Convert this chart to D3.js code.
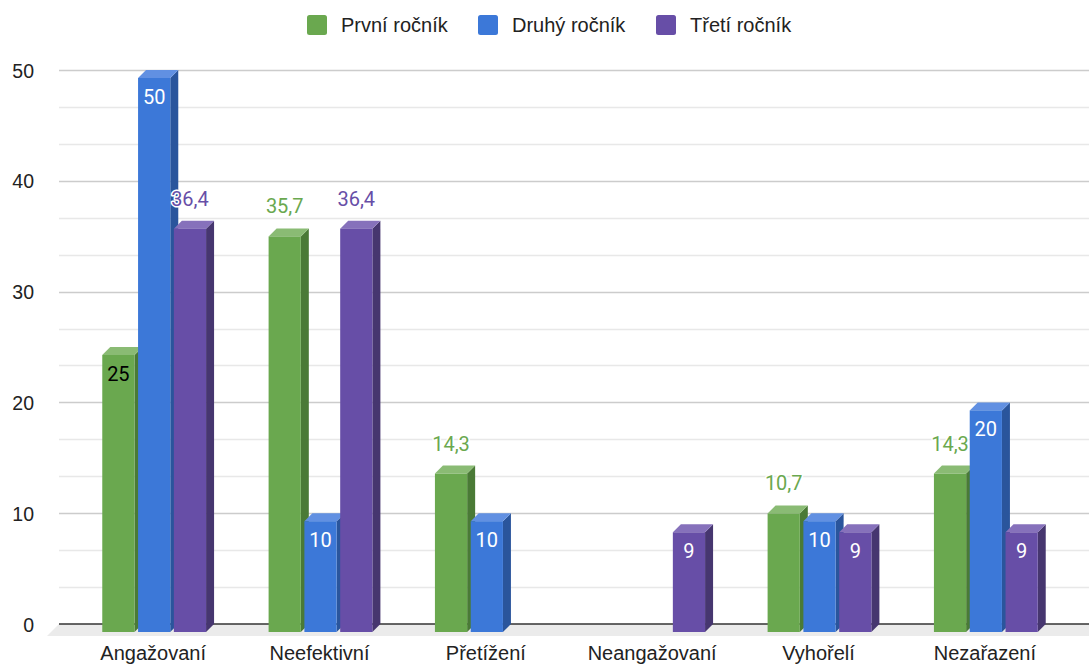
<!DOCTYPE html>
<html>
<head>
<meta charset="utf-8">
<script src="https://cdn.jsdelivr.net/npm/d3@7"></script>
<style>
  html, body { margin: 0; padding: 0; background: #fff; }
  svg { display: block; }
</style>
</head>
<body>
<svg id="chart" width="1089" height="666"></svg>
<script>
// Category names and series values (percent)
const categories = ["Angažovaní", "Neefektivní", "Přetížení", "Neangažovaní", "Vyhořelí", "Nezařazení"];
const seriesNames = ["První ročník", "Druhý ročník", "Třetí ročník"];
const prvniRocnik = [25, 35.7, 14.3, null, 10.7, 14.3];
const druhyRocnik = [50, 10, 10, null, 10, 20];
const tretiRocnik = [36.4, 36.4, null, 9, 9, 9];
const yTicks = [0, 10, 20, 30, 40, 50];

const seriesValues = [prvniRocnik, druhyRocnik, tretiRocnik];

// Face colours per series: front, top, side
const palette = [
  { front: "#6aa84f", top: "#8abb74", side: "#4a7a36", label: "#6aa84f", inside: "#000000" },
  { front: "#3c78d8", top: "#6190e2", side: "#2a559c", label: "#3c78d8", inside: "#ffffff" },
  { front: "#674ea7", top: "#8671bb", side: "#46366f", label: "#674ea7", inside: "#ffffff" }
];

// Where each value label sits: inside the bar top or above it
const labelInside = [
  [true, false, false, false, false, false],
  [true, true, true, true, true, true],
  [false, false, false, true, true, true]
];

const svg = d3.select("#chart");
const depth = 8;            // 3D offset of the back plane
const plotLeft = 59, plotRight = 1089;

const y = d3.scaleLinear().domain([0, 50]).range([624, 70]);
const x0 = d3.scaleBand().domain(categories).range([79, 1077]).padding(0);
const groupW = 103.8;
const gOff = (x0.bandwidth() - groupW) / 2;
const x1 = d3.scaleBand().domain(d3.range(3)).range([gOff, gOff + groupW]).paddingInner(0.1).paddingOuter(0);

const fmt = d3.formatLocale({ decimal: ",", thousands: " ", grouping: [3], currency: ["", " Kč"] }).format("~g");

// Floor of the 3D plot
svg.append("path")
  .attr("d", `M${plotLeft},${y(0)} L${plotRight},${y(0)} L${plotRight},${y(0) + 12} L${plotLeft - 12},${y(0) + 12} Z`)
  .attr("fill", "#ebebeb");

// Gridlines: major every 10, minor at thirds
const minor = d3.range(0, 50.001, 10 / 3).filter(v => Math.abs(v / 10 - Math.round(v / 10)) > 0.01);
svg.append("g").selectAll("line").data(minor).join("line")
  .attr("x1", plotLeft).attr("x2", plotRight)
  .attr("y1", d => Math.round(y(d)) + 0.5).attr("y2", d => Math.round(y(d)) + 0.5)
  .attr("stroke", "#e8e8e8").attr("stroke-width", 1.3);

svg.append("g").selectAll("line").data(yTicks.filter(d => d > 0)).join("line")
  .attr("x1", plotLeft).attr("x2", plotRight)
  .attr("y1", d => Math.round(y(d)) + 0.5).attr("y2", d => Math.round(y(d)) + 0.5)
  .attr("stroke", "#cccccc").attr("stroke-width", 1.3);

svg.append("line")
  .attr("x1", plotLeft).attr("x2", plotRight)
  .attr("y1", y(0)).attr("y2", y(0))
  .attr("stroke", "#333333").attr("stroke-width", 1.3);

// Y axis labels
const yAxis = d3.axisLeft(y).tickValues(yTicks).tickSize(0).tickPadding(0);
const gy = svg.append("g").attr("transform", "translate(34,0)").call(yAxis);
gy.select(".domain").remove();
gy.selectAll("text")
  .attr("font-family", "'Liberation Sans', Arial, sans-serif")
  .attr("font-size", 19.5).attr("fill", "#222").attr("dy", "0.36em");

// Bars, drawn left to right so each front face covers the previous side face
const bars = [];
categories.forEach((c, ci) => {
  seriesValues.forEach((vals, si) => {
    const v = vals[ci];
    if (v == null) return;
    bars.push({ c, ci, si, v });
  });
});

const gBars = svg.append("g");
bars.forEach(b => {
  const bx = x0(b.c) + x1(b.si) - depth;     // front-face left
  const bw = x1.bandwidth();
  const ft = y(b.v) + depth;                   // front-face top
  const fb = y(0) + depth;                     // front-face bottom
  const col = palette[b.si];
  const g = gBars.append("g");
  g.append("path")
    .attr("d", `M${bx + bw},${ft} L${bx + bw + depth},${ft - depth} L${bx + bw + depth},${fb - depth} L${bx + bw},${fb} Z`)
    .attr("fill", col.side);
  g.append("path")
    .attr("d", `M${bx},${ft} L${bx + depth},${ft - depth} L${bx + bw + depth},${ft - depth} L${bx + bw},${ft} Z`)
    .attr("fill", col.top);
  g.append("rect")
    .attr("x", bx).attr("y", ft).attr("width", bw).attr("height", fb - ft)
    .attr("fill", col.front);
  b.cx = bx + bw / 2;
  b.ft = ft;
});

// Value labels
const gLab = svg.append("g")
  .attr("font-family", "Roboto, 'Noto Sans', sans-serif")
  .attr("font-size", 20).attr("text-anchor", "middle");
bars.forEach(b => {
  const inside = labelInside[b.si][b.ci];
  const t = gLab.append("text")
    .attr("x", b.cx)
    .attr("y", inside ? b.ft + 25.5 : b.ft - depth - 15)
    .text(fmt(b.v));
  if (inside) {
    t.attr("fill", palette[b.si].inside);
  } else {
    t.attr("fill", palette[b.si].label)
      .attr("stroke", "#fff").attr("stroke-width", 3)
      .attr("stroke-linejoin", "round").attr("paint-order", "stroke");
  }
});

// Category labels
svg.append("g").selectAll("text").data(categories).join("text")
  .attr("x", d => x0(d) + x0.bandwidth() / 2 - depth - 1)
  .attr("y", 660)
  .attr("text-anchor", "middle")
  .attr("font-family", "'Liberation Sans', Arial, sans-serif")
  .attr("font-size", 20).attr("fill", "#222")
  .text(d => d);

// Legend
const legendX = [307, 478, 656];
const gLeg = svg.append("g");
seriesNames.forEach((n, i) => {
  gLeg.append("rect")
    .attr("x", legendX[i]).attr("y", 15).attr("width", 20).attr("height", 20)
    .attr("rx", 2.5).attr("fill", palette[i].front);
  gLeg.append("text")
    .attr("x", legendX[i] + 34).attr("y", 32)
    .attr("font-family", "'Liberation Sans', Arial, sans-serif")
    .attr("font-size", 20).attr("fill", "#222")
    .text(n);
});
</script>
</body>
</html>
